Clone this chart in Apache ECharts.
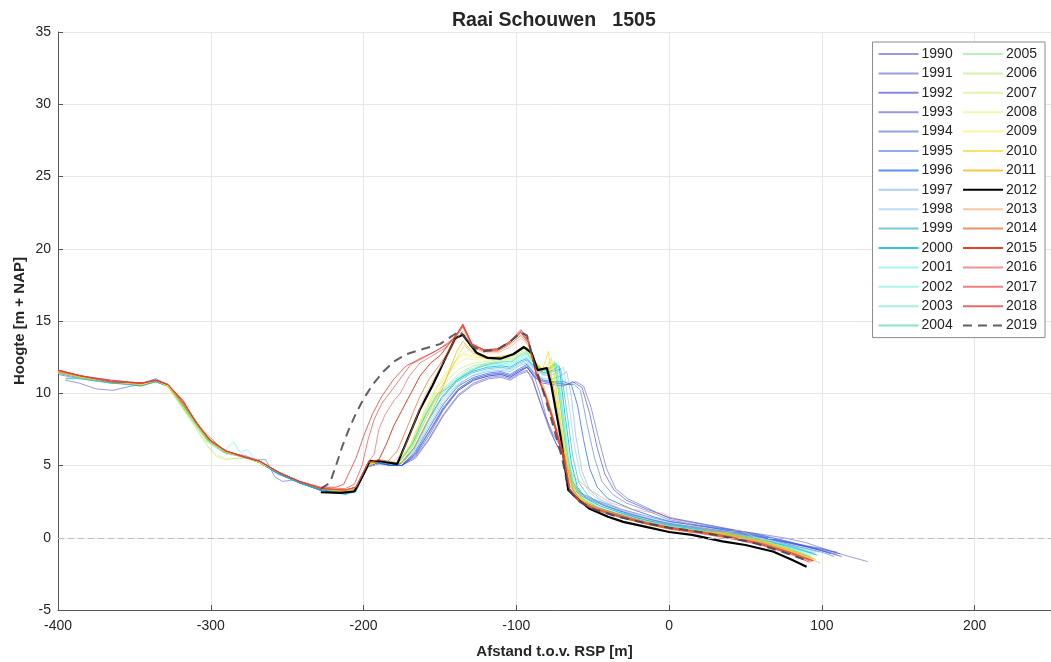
<!DOCTYPE html>
<html><head><meta charset="utf-8">
<script src="https://cdn.jsdelivr.net/npm/echarts@6/dist/echarts.min.js"></script>
<style>html,body{margin:0;padding:0;background:#fff}#c{width:1051px;height:662px}</style>
</head><body><div id="c"></div>
<script>
const titleText = 'Raai Schouwen   1505';
const xName = 'Afstand t.o.v. RSP [m]';
const yName = 'Hoogte [m + NAP]';
const years = ['1990','1991','1992','1993','1994','1995','1996','1997','1998','1999','2000','2001','2002','2003','2004','2005','2006','2007','2008','2009','2010','2011','2012','2013','2014','2015','2016','2017','2018','2019'];

const d1990 = [[-395,10.9],[-386,10.7],[-375,10.3],[-364,10.2],[-352,10.5],[-343,10.6],[-336,10.9],[-328,10.5],[-316,8.8],[-303,6.9],[-291,5.9],[-279,5.6],[-268,5.2],[-256,4.4],[-243,3.9],[-229,3.3],[-213,3.15],[-205,3.35],[-198,4.9],[-191,5.2],[-182,5.0],[-175,5.0],[-166,5.6],[-157,6.9],[-148,8.5],[-138,9.9],[-128,10.7],[-118,11.1],[-110,11.2],[-104,11.0],[-98,11.4],[-93,11.6],[-89,10.8],[-84,9.2],[-78,7.4],[-72,6.1],[-67,5.2],[-63,3.6],[-56,2.9],[-45,2.4],[-30,1.8],[-15,1.35],[0,0.95],[20,0.65],[40,0.35],[60,0.0],[80,-0.4],[100,-0.8],[112,-1.1]];
const d1991 = [[-400,11.4],[-386,11.1],[-366,10.8],[-346,10.5],[-336,10.8],[-328,10.5],[-315,8.7],[-302,6.8],[-290,5.9],[-278,5.6],[-268,5.2],[-255,4.4],[-242,3.8],[-228,3.3],[-212,3.15],[-205,3.4],[-197,5.0],[-190,5.2],[-182,5.0],[-175,5.0],[-166,5.8],[-157,7.3],[-148,8.9],[-138,10.2],[-128,10.9],[-118,11.2],[-110,11.3],[-104,11.1],[-98,11.5],[-93,11.8],[-88,11.1],[-84,9.8],[-79,7.8],[-74,6.5],[-68,5.6],[-64,4.0],[-58,3.1],[-48,2.6],[-32,2.0],[-15,1.5],[0,1.1],[20,0.85],[40,0.55],[60,0.25],[75,0.0],[90,-0.35],[105,-0.9],[118,-1.3],[130,-1.65]];
const d1992 = [[-400,11.5],[-385,11.1],[-365,10.8],[-345,10.7],[-336,11.0],[-328,10.6],[-315,8.8],[-302,6.9],[-290,6.0],[-278,5.6],[-268,5.3],[-255,4.5],[-242,3.9],[-228,3.3],[-212,3.1],[-205,3.3],[-197,5.0],[-190,5.2],[-182,5.0],[-175,5.0],[-166,5.7],[-157,7.1],[-148,8.8],[-138,10.2],[-128,10.9],[-118,11.2],[-110,11.3],[-104,11.1],[-98,11.5],[-93,11.8],[-88,11.1],[-83,10.7],[-76,10.6],[-69,10.5],[-63,10.8],[-57,10.4],[-52,8.6],[-47,6.2],[-42,4.4],[-36,3.3],[-28,2.6],[-15,2.0],[0,1.4],[20,1.0],[40,0.6],[60,0.2],[80,-0.3],[100,-0.9],[113,-1.3]];
const d1993 = [[-400,11.3],[-385,11.0],[-365,10.7],[-345,10.6],[-336,10.8],[-328,10.5],[-315,8.6],[-302,6.7],[-290,5.9],[-278,5.6],[-268,5.2],[-255,4.4],[-242,3.8],[-228,3.3],[-212,3.1],[-205,3.3],[-197,4.9],[-190,5.1],[-182,5.0],[-175,5.0],[-166,5.5],[-157,6.8],[-148,8.4],[-138,9.8],[-128,10.6],[-118,11.0],[-110,11.1],[-104,10.9],[-98,11.3],[-93,11.5],[-90,11.2],[-86,9.9],[-81,8.4],[-76,7.2],[-71,6.3],[-67,5.0],[-63,3.4],[-56,2.8],[-42,2.2],[-25,1.6],[-10,1.2],[0,1.0],[20,0.7],[40,0.4],[60,0.05],[80,-0.35],[100,-0.75],[110,-1.0]];
const d1994 = [[-400,11.4],[-385,11.1],[-365,10.8],[-345,10.6],[-336,10.9],[-328,10.5],[-315,8.7],[-302,6.8],[-290,5.9],[-278,5.7],[-270,5.4],[-264,5.4],[-258,4.2],[-253,3.9],[-246,4.0],[-235,3.6],[-225,3.3],[-212,3.15],[-205,3.35],[-197,5.0],[-190,5.2],[-182,5.0],[-175,5.0],[-166,5.9],[-157,7.4],[-148,9.0],[-138,10.3],[-128,11.0],[-118,11.3],[-110,11.4],[-104,11.2],[-98,11.6],[-93,11.9],[-88,11.2],[-82,10.8],[-74,10.7],[-66,10.6],[-61,10.8],[-56,10.5],[-51,9.0],[-46,6.8],[-41,4.8],[-35,3.4],[-27,2.7],[-15,2.1],[0,1.35],[20,0.95],[40,0.55],[60,0.15],[80,-0.35],[100,-0.85],[110,-1.15]];
const d1995 = [[-400,11.5],[-385,11.2],[-365,10.9],[-345,10.7],[-336,10.9],[-328,10.6],[-315,8.7],[-302,6.8],[-290,6.0],[-278,5.6],[-268,5.2],[-255,4.5],[-242,3.8],[-228,3.3],[-212,3.1],[-205,3.3],[-197,5.0],[-190,5.2],[-182,5.0],[-175,5.0],[-166,5.8],[-157,7.3],[-148,8.9],[-138,10.3],[-128,11.0],[-118,11.3],[-110,11.4],[-104,11.2],[-98,11.6],[-93,11.8],[-88,11.1],[-82,10.8],[-74,10.7],[-67,10.6],[-62,10.6],[-58,10.2],[-54,8.0],[-49,5.6],[-44,3.9],[-37,3.0],[-28,2.4],[-15,1.9],[0,1.25],[20,0.85],[40,0.45],[60,0.05],[80,-0.5],[100,-1.0],[108,-1.3]];
const d1996 = [[-400,11.4],[-385,11.1],[-365,10.8],[-345,10.6],[-336,10.8],[-328,10.5],[-315,8.8],[-302,6.9],[-290,5.9],[-278,5.6],[-268,5.3],[-255,4.5],[-242,3.8],[-228,3.3],[-212,3.1],[-205,3.3],[-197,5.0],[-190,5.2],[-182,5.0],[-175,5.0],[-166,6.0],[-157,7.6],[-148,9.2],[-138,10.5],[-128,11.1],[-118,11.4],[-110,11.5],[-104,11.3],[-98,11.7],[-93,12.0],[-88,11.3],[-82,10.9],[-75,10.8],[-69,10.8],[-64,10.6],[-60,9.2],[-56,6.8],[-52,4.8],[-47,3.5],[-40,2.7],[-25,2.0],[-10,1.45],[0,1.15],[20,0.8],[40,0.5],[60,0.1],[80,-0.4],[100,-0.9],[106,-1.1]];
const d1997 = [[-395,11.0],[-385,11.1],[-365,10.8],[-345,10.6],[-336,10.9],[-328,10.5],[-315,8.6],[-302,6.8],[-290,5.9],[-278,5.6],[-268,5.2],[-255,4.4],[-242,3.8],[-228,3.3],[-212,3.1],[-205,3.3],[-197,5.0],[-190,5.2],[-182,5.1],[-176,5.1],[-167,6.0],[-158,7.6],[-149,9.2],[-139,10.5],[-129,11.2],[-119,11.5],[-110,11.6],[-104,11.5],[-98,11.9],[-93,12.1],[-88,11.4],[-82,11.0],[-76,11.0],[-71,11.2],[-67,11.5],[-64,9.8],[-61,7.0],[-57,4.6],[-52,3.3],[-44,2.6],[-30,1.9],[-15,1.4],[0,1.0],[20,0.7],[40,0.4],[60,0.0],[80,-0.5],[98,-1.0]];
const d1998 = [[-400,11.5],[-385,11.1],[-365,10.8],[-345,10.6],[-336,10.9],[-328,10.5],[-315,8.7],[-302,6.8],[-290,5.9],[-278,5.6],[-268,5.3],[-255,4.5],[-242,3.8],[-228,3.3],[-212,3.1],[-205,3.3],[-197,5.0],[-190,5.3],[-182,5.1],[-176,5.1],[-167,6.1],[-158,7.8],[-149,9.4],[-139,10.6],[-129,11.2],[-119,11.6],[-110,11.7],[-104,11.6],[-98,12.0],[-93,12.2],[-88,11.6],[-82,11.2],[-76,11.3],[-69,11.8],[-66,9.5],[-62,6.4],[-58,4.3],[-52,3.1],[-44,2.5],[-30,1.85],[-15,1.35],[0,0.95],[20,0.65],[40,0.35],[60,-0.05],[80,-0.55],[96,-1.05]];
const d1999 = [[-400,11.4],[-385,11.1],[-365,10.7],[-345,10.6],[-336,10.9],[-328,10.5],[-315,8.7],[-302,6.8],[-290,5.9],[-278,5.6],[-268,5.2],[-255,4.4],[-242,3.8],[-228,3.3],[-212,3.05],[-205,3.3],[-197,5.0],[-190,5.3],[-182,5.1],[-176,5.1],[-167,6.2],[-158,8.0],[-149,9.6],[-139,10.8],[-129,11.4],[-119,11.7],[-110,11.8],[-104,11.7],[-98,12.1],[-93,12.3],[-88,11.7],[-82,11.3],[-76,11.5],[-71,11.7],[-67,8.8],[-63,5.6],[-59,3.8],[-53,2.9],[-44,2.3],[-30,1.7],[-15,1.25],[0,0.9],[20,0.6],[40,0.3],[60,-0.1],[80,-0.6],[95,-1.1]];
const d2000 = [[-400,11.5],[-385,11.2],[-365,10.8],[-345,10.6],[-336,10.9],[-328,10.5],[-315,8.6],[-302,6.7],[-290,5.9],[-278,5.6],[-268,5.2],[-255,4.4],[-242,3.8],[-228,3.3],[-212,3.0],[-205,3.2],[-197,5.0],[-190,5.3],[-182,5.1],[-176,5.1],[-167,6.2],[-158,8.1],[-149,9.7],[-139,10.9],[-129,11.5],[-119,11.8],[-110,11.9],[-104,11.8],[-98,12.2],[-93,12.4],[-88,11.8],[-82,11.4],[-76,11.6],[-72,11.9],[-68,8.4],[-64,5.2],[-60,3.5],[-54,2.7],[-45,2.2],[-30,1.65],[-15,1.2],[0,0.85],[20,0.55],[40,0.25],[60,-0.15],[80,-0.65],[97,-1.2]];
const d2001 = [[-395,11.0],[-385,11.1],[-365,10.8],[-345,10.6],[-336,10.9],[-328,10.5],[-315,8.6],[-302,6.7],[-292,5.9],[-285,6.65],[-281,5.9],[-276,6.1],[-270,5.3],[-255,4.5],[-242,3.9],[-228,3.4],[-212,3.1],[-205,3.3],[-197,5.0],[-190,5.3],[-183,5.2],[-177,5.2],[-168,6.3],[-159,8.3],[-150,9.8],[-141,10.8],[-131,11.5],[-121,11.9],[-110,12.0],[-104,11.9],[-98,12.3],[-93,12.5],[-88,11.9],[-82,11.5],[-76,11.8],[-73,12.0],[-69,8.6],[-65,5.3],[-61,3.6],[-55,2.8],[-46,2.2],[-30,1.6],[-15,1.15],[0,0.85],[20,0.55],[40,0.25],[60,-0.15],[80,-0.65],[95,-1.15]];
const d2002 = [[-395,11.1],[-385,11.0],[-365,10.7],[-345,10.6],[-336,10.9],[-328,10.5],[-315,8.6],[-302,6.7],[-290,5.9],[-278,5.6],[-268,5.2],[-255,4.5],[-242,3.9],[-228,3.4],[-212,3.1],[-205,3.3],[-197,5.0],[-190,5.3],[-183,5.2],[-177,5.2],[-168,6.4],[-159,8.5],[-151,9.8],[-142,10.7],[-132,11.5],[-121,11.9],[-110,12.1],[-104,12.0],[-98,12.4],[-93,12.6],[-88,12.0],[-82,11.5],[-77,11.8],[-74,12.1],[-70,8.8],[-66,5.4],[-62,3.6],[-56,2.8],[-46,2.1],[-30,1.55],[-15,1.1],[0,0.8],[20,0.5],[40,0.2],[60,-0.2],[80,-0.7],[93,-1.2]];
const d2003 = [[-400,11.4],[-385,11.1],[-365,10.8],[-345,10.6],[-336,10.8],[-328,10.5],[-315,8.7],[-302,6.8],[-290,5.9],[-278,5.6],[-268,5.3],[-255,4.5],[-242,3.9],[-228,3.4],[-212,3.1],[-205,3.3],[-197,5.0],[-190,5.3],[-183,5.2],[-177,5.2],[-168,6.5],[-159,8.6],[-151,9.9],[-142,10.8],[-132,11.6],[-121,12.0],[-110,12.1],[-104,12.1],[-98,12.5],[-93,12.7],[-88,12.0],[-82,11.6],[-77,11.9],[-74,12.1],[-70,9.0],[-66,5.5],[-62,3.5],[-56,2.7],[-46,2.1],[-30,1.5],[-15,1.1],[0,0.75],[20,0.45],[40,0.2],[60,-0.2],[80,-0.75],[92,-1.25]];
const d2004 = [[-395,11.0],[-385,11.0],[-365,10.7],[-345,10.5],[-336,10.8],[-328,10.5],[-315,8.6],[-302,6.7],[-290,5.9],[-278,5.6],[-268,5.2],[-255,4.5],[-242,3.9],[-228,3.4],[-212,3.1],[-205,3.3],[-197,5.0],[-190,5.3],[-183,5.2],[-177,5.2],[-168,6.5],[-160,8.4],[-152,9.9],[-143,10.5],[-135,11.2],[-125,11.8],[-115,12.1],[-108,12.2],[-103,12.2],[-98,12.6],[-93,12.8],[-88,12.1],[-82,11.6],[-78,11.8],[-75,12.0],[-71,9.0],[-67,5.6],[-63,3.6],[-57,2.7],[-46,2.05],[-30,1.5],[-15,1.05],[0,0.7],[20,0.4],[40,0.15],[60,-0.25],[80,-0.8],[93,-1.35]];
const d2005 = [[-400,11.5],[-385,11.1],[-365,10.8],[-345,10.6],[-336,10.9],[-328,10.5],[-315,8.5],[-302,6.6],[-290,5.8],[-278,5.6],[-268,5.2],[-255,4.5],[-242,3.9],[-228,3.4],[-212,3.15],[-205,3.35],[-197,5.0],[-190,5.3],[-183,5.2],[-177,5.2],[-169,6.4],[-161,8.2],[-153,9.8],[-145,10.6],[-137,11.4],[-128,11.9],[-118,12.1],[-109,12.3],[-103,12.3],[-98,12.7],[-93,12.9],[-88,12.1],[-83,11.5],[-78,11.4],[-75,12.2],[-71,9.2],[-67,6.0],[-63,3.8],[-57,2.7],[-46,2.0],[-30,1.45],[-15,1.05],[0,0.7],[20,0.45],[40,0.15],[60,-0.3],[80,-0.85],[92,-1.35]];
const d2006 = [[-400,11.4],[-385,11.1],[-365,10.8],[-345,10.6],[-336,10.8],[-328,10.4],[-315,8.4],[-302,6.3],[-296,5.6],[-290,5.4],[-283,5.5],[-276,5.5],[-268,5.2],[-255,4.5],[-242,3.9],[-228,3.4],[-212,3.2],[-205,3.4],[-197,5.0],[-190,5.3],[-183,5.2],[-177,5.2],[-169,6.5],[-161,8.4],[-153,10.0],[-145,10.9],[-137,11.7],[-128,12.1],[-118,12.2],[-109,12.4],[-103,12.4],[-98,12.8],[-93,13.0],[-88,12.2],[-83,11.6],[-79,11.6],[-76,12.0],[-72,9.0],[-68,6.0],[-64,3.7],[-58,2.6],[-46,1.95],[-30,1.4],[-15,1.0],[0,0.65],[20,0.4],[40,0.15],[60,-0.3],[80,-0.9],[93,-1.45]];
const d2007 = [[-400,11.5],[-385,11.2],[-365,10.8],[-345,10.6],[-336,10.9],[-328,10.5],[-315,8.5],[-302,6.4],[-296,5.7],[-290,5.5],[-283,5.5],[-276,5.5],[-268,5.2],[-255,4.5],[-242,3.9],[-228,3.4],[-212,3.2],[-205,3.4],[-197,5.0],[-190,5.3],[-183,5.2],[-177,5.2],[-169,6.5],[-161,8.5],[-153,10.2],[-146,11.2],[-139,12.0],[-133,12.4],[-126,12.3],[-118,12.3],[-109,12.4],[-103,12.5],[-98,12.9],[-93,13.1],[-88,12.2],[-83,11.6],[-80,11.8],[-77,12.4],[-73,9.5],[-69,6.3],[-65,4.0],[-59,2.7],[-46,1.9],[-30,1.4],[-15,1.0],[0,0.65],[20,0.4],[40,0.15],[60,-0.3],[80,-0.9],[95,-1.5]];
const d2008 = [[-400,11.5],[-385,11.1],[-365,10.8],[-345,10.7],[-336,10.9],[-328,10.5],[-315,8.6],[-302,6.7],[-290,5.9],[-278,5.6],[-268,5.3],[-255,4.5],[-242,3.9],[-228,3.4],[-212,3.2],[-205,3.4],[-197,5.0],[-190,5.3],[-183,5.2],[-177,5.2],[-169,6.6],[-161,8.6],[-154,10.2],[-147,11.3],[-140,12.2],[-135,12.8],[-129,12.6],[-120,12.4],[-110,12.5],[-103,12.6],[-98,13.0],[-93,13.2],[-88,12.3],[-83,11.7],[-80,11.9],[-77,12.5],[-73,9.6],[-69,6.5],[-65,4.2],[-60,2.8],[-46,1.9],[-30,1.35],[-15,0.95],[0,0.6],[20,0.4],[40,0.2],[60,-0.3],[80,-0.95],[93,-1.5]];
const d2009 = [[-400,11.4],[-385,11.1],[-365,10.8],[-345,10.6],[-336,10.9],[-328,10.5],[-315,8.6],[-302,6.7],[-290,5.9],[-278,5.6],[-268,5.2],[-255,4.5],[-242,3.9],[-228,3.4],[-212,3.2],[-205,3.4],[-197,5.0],[-190,5.3],[-183,5.2],[-177,5.2],[-169,6.5],[-161,8.4],[-154,10.0],[-147,11.2],[-140,12.1],[-135,12.7],[-129,12.5],[-120,12.4],[-110,12.5],[-103,12.6],[-98,13.0],[-93,13.1],[-88,12.2],[-83,11.7],[-80,11.8],[-77,12.2],[-73,9.6],[-69,6.6],[-65,4.3],[-60,2.9],[-46,1.95],[-30,1.35],[-15,0.95],[0,0.6],[20,0.4],[35,0.3],[46,0.55],[55,0.1],[70,-0.5],[85,-1.1],[93,-1.4]];
const d2010 = [[-400,11.5],[-385,11.2],[-365,10.8],[-345,10.6],[-336,10.9],[-328,10.5],[-315,8.7],[-302,6.8],[-290,5.9],[-278,5.6],[-268,5.3],[-255,4.5],[-242,3.9],[-228,3.4],[-212,3.2],[-205,3.4],[-197,5.1],[-190,5.3],[-182,5.2],[-175,5.2],[-168,6.3],[-161,7.8],[-154,9.4],[-148,10.6],[-142,11.8],[-137,12.8],[-134,13.3],[-129,12.8],[-120,12.4],[-110,12.5],[-103,12.7],[-98,13.0],[-93,13.2],[-88,12.2],[-83,11.6],[-79,12.9],[-75,9.6],[-71,7.0],[-67,4.6],[-62,3.1],[-50,2.1],[-30,1.35],[-15,0.95],[0,0.65],[20,0.45],[40,0.3],[60,-0.2],[80,-0.85],[95,-1.45]];
const d2011 = [[-400,11.5],[-385,11.1],[-365,10.8],[-345,10.7],[-336,10.9],[-328,10.6],[-315,8.8],[-302,6.9],[-290,6.0],[-278,5.6],[-268,5.3],[-255,4.5],[-242,3.9],[-228,3.4],[-212,3.2],[-205,3.4],[-197,5.1],[-190,5.3],[-182,5.2],[-174,5.2],[-167,6.2],[-160,7.6],[-154,9.0],[-148,10.4],[-143,11.8],[-139,12.9],[-135,13.6],[-130,13.0],[-124,12.6],[-115,12.5],[-107,12.6],[-101,12.8],[-96,13.2],[-92,13.0],[-88,12.0],[-83,11.6],[-79,11.8],[-75,10.2],[-71,7.5],[-67,5.0],[-63,3.3],[-55,2.4],[-40,1.8],[-25,1.3],[-10,0.9],[0,0.7],[20,0.45],[40,0.2],[60,-0.25],[80,-0.9],[96,-1.5]];
const d2012 = [[-228,3.15],[-215,3.1],[-206,3.2],[-201,4.2],[-196,5.3],[-189,5.3],[-183,5.2],[-178,5.1],[-172,6.6],[-163,8.9],[-155,10.5],[-146,12.5],[-140,13.8],[-135,14.05],[-126,12.8],[-119,12.45],[-110,12.4],[-102,12.7],[-95,13.2],[-90,12.8],[-86,11.6],[-80,11.75],[-77,10.5],[-71,7.0],[-66,3.3],[-60,2.7],[-52,2.0],[-40,1.45],[-30,1.1],[-15,0.75],[0,0.4],[15,0.2],[35,-0.25],[50,-0.5],[68,-0.95],[80,-1.5],[90,-2.0]];
const d2013 = [[-400,11.5],[-385,11.2],[-365,10.8],[-345,10.7],[-336,10.9],[-328,10.6],[-316,9.0],[-304,7.1],[-291,6.0],[-279,5.6],[-268,5.3],[-255,4.5],[-242,3.9],[-228,3.4],[-212,3.3],[-205,3.5],[-197,5.2],[-190,5.4],[-184,5.3],[-180,5.3],[-175,5.8],[-169,7.3],[-164,8.7],[-160,9.8],[-154,11.0],[-148,12.1],[-144,12.8],[-140,13.6],[-135,14.3],[-129,13.2],[-121,12.8],[-112,12.8],[-104,13.2],[-97,13.8],[-92,13.3],[-87,11.6],[-82,10.5],[-77,8.8],[-72,6.6],[-67,4.8],[-60,4.0],[-50,3.2],[-38,2.4],[-25,2.0],[-12,1.75],[-4,1.7],[5,1.2],[20,0.7],[40,0.25],[60,-0.3],[80,-1.0],[99,-1.75]];
const d2014 = [[-400,11.6],[-385,11.2],[-365,10.8],[-345,10.7],[-336,10.9],[-328,10.6],[-317,9.2],[-306,7.5],[-292,6.1],[-280,5.6],[-268,5.3],[-255,4.5],[-242,3.9],[-228,3.4],[-212,3.3],[-205,3.5],[-197,5.2],[-190,5.4],[-184,5.3],[-178,6.0],[-172,7.5],[-167,8.8],[-163,9.8],[-157,11.0],[-150,12.0],[-145,12.8],[-140,13.8],[-135,14.6],[-129,13.3],[-121,12.9],[-112,12.9],[-104,13.4],[-97,14.0],[-92,13.4],[-87,11.5],[-81,10.0],[-75,8.0],[-69,5.8],[-65,3.6],[-58,2.6],[-48,2.1],[-32,1.6],[-15,1.1],[0,0.75],[20,0.45],[40,0.1],[60,-0.35],[80,-1.0],[95,-1.6]];
const d2015 = [[-400,11.6],[-385,11.2],[-365,10.8],[-345,10.7],[-336,10.9],[-328,10.6],[-318,9.4],[-309,7.9],[-300,6.7],[-290,6.0],[-278,5.6],[-268,5.3],[-255,4.5],[-242,3.9],[-228,3.4],[-212,3.3],[-205,3.5],[-197,5.2],[-190,5.4],[-185,6.5],[-180,7.8],[-175,8.8],[-170,9.8],[-163,11.2],[-156,12.1],[-150,12.6],[-144,13.4],[-139,14.1],[-135,14.7],[-129,13.4],[-121,13.0],[-112,13.0],[-104,13.5],[-97,14.2],[-92,13.5],[-87,11.4],[-81,9.9],[-75,7.9],[-69,5.6],[-65,3.4],[-58,2.5],[-48,2.0],[-32,1.5],[-15,1.0],[0,0.7],[20,0.4],[40,0.05],[60,-0.4],[80,-1.05],[94,-1.6]];
const d2016 = [[-400,11.5],[-385,11.2],[-365,10.8],[-345,10.7],[-336,10.9],[-328,10.6],[-318,9.3],[-308,7.8],[-299,6.6],[-290,6.0],[-278,5.6],[-268,5.3],[-255,4.5],[-242,3.9],[-228,3.4],[-212,3.3],[-205,3.5],[-197,5.2],[-193,5.8],[-190,7.5],[-186,8.5],[-180,9.5],[-176,10.0],[-170,11.2],[-163,12.1],[-155,12.6],[-147,13.1],[-140,13.9],[-135,14.6],[-129,13.3],[-121,12.9],[-112,13.0],[-104,13.5],[-97,14.2],[-92,13.6],[-87,11.4],[-81,9.8],[-75,7.8],[-69,5.5],[-65,3.3],[-58,2.5],[-48,2.0],[-32,1.5],[-15,1.05],[0,0.7],[20,0.4],[40,0.0],[60,-0.45],[80,-1.1],[92,-1.55]];
const d2017 = [[-400,11.6],[-385,11.2],[-365,10.8],[-345,10.7],[-336,10.9],[-328,10.6],[-318,9.4],[-309,7.9],[-300,6.7],[-290,6.0],[-278,5.6],[-268,5.3],[-255,4.5],[-242,3.9],[-228,3.45],[-212,3.4],[-206,3.7],[-201,5.0],[-197,6.8],[-193,8.2],[-188,9.3],[-183,10.0],[-176,11.0],[-169,12.0],[-160,12.5],[-150,13.1],[-141,13.8],[-135,14.7],[-129,13.4],[-121,13.0],[-112,13.0],[-104,13.6],[-97,14.3],[-92,13.6],[-87,11.3],[-81,9.8],[-75,7.7],[-69,5.4],[-65,3.3],[-58,2.4],[-48,1.95],[-32,1.45],[-15,1.0],[0,0.65],[20,0.35],[40,0.0],[60,-0.45],[80,-1.1],[93,-1.65]];
const d2018 = [[-400,11.6],[-385,11.2],[-365,10.9],[-345,10.7],[-336,10.9],[-328,10.6],[-318,9.5],[-310,8.0],[-301,6.8],[-290,6.0],[-278,5.6],[-268,5.3],[-255,4.5],[-242,3.9],[-228,3.5],[-218,3.5],[-213,3.7],[-205,5.5],[-199,7.3],[-194,8.6],[-188,9.8],[-180,11.0],[-172,11.9],[-163,12.4],[-153,12.9],[-145,13.4],[-140,13.9],[-135,14.8],[-129,13.4],[-121,13.0],[-112,13.1],[-104,13.6],[-97,14.4],[-92,13.7],[-87,11.3],[-81,9.8],[-75,7.7],[-69,5.4],[-65,3.2],[-58,2.4],[-48,1.9],[-32,1.4],[-15,0.95],[0,0.6],[20,0.3],[40,-0.05],[60,-0.5],[80,-1.15],[92,-1.7]];
const d2019 = [[-228,3.4],[-222,3.8],[-218,5.0],[-214,6.3],[-210,7.4],[-205,8.6],[-200,9.6],[-194,10.6],[-187,11.5],[-180,12.2],[-172,12.7],[-160,13.1],[-150,13.4],[-143,13.9],[-137,14.3],[-130,13.3],[-122,12.9],[-113,13.0],[-105,13.5],[-97,14.2],[-93,14.0],[-88,12.0],[-82,10.0],[-76,7.8],[-70,5.5],[-66,3.4],[-60,2.6],[-50,2.0],[-35,1.5],[-15,1.0],[0,0.7],[20,0.4],[40,0.0],[57,-0.4],[75,-1.0],[88,-1.5]];

const profiles = [d1990,d1991,d1992,d1993,d1994,d1995,d1996,d1997,d1998,d1999,d2000,d2001,d2002,d2003,d2004,d2005,d2006,d2007,d2008,d2009,d2010,d2011,d2012,d2013,d2014,d2015,d2016,d2017,d2018,d2019];

// styles (kept apart from data)
const lineColors = ['#4a46c8','#4a4ccc','#3a36d4','#4444c4','#3a56c8','#3a66d8','#1a62f0','#5aa4ea','#6ab4f2','#18a8c8','#00b8d2','#44e0e0','#44e6d0','#44deb4','#22cf90','#5ede6a','#a4e048','#c8e84a','#e2ee4a','#f0ee44','#f2d000','#f2b000','#000000','#f4a060','#e27030','#e02200','#ea6464','#ea4848','#e43434','#44444c'];
const lineOpac = [0.55,0.55,0.6,0.55,0.55,0.55,0.7,0.5,0.45,0.6,0.8,0.45,0.45,0.45,0.55,0.45,0.45,0.45,0.45,0.5,0.6,0.7,1,0.6,0.75,0.85,0.7,0.7,0.75,0.85];

const FONT = 'Liberation Sans, Arial, sans-serif';
const chart = echarts.init(document.getElementById('c'), null, {renderer:'canvas'});

const series = years.map((y, i) => {
  const is12 = y === '2012', is19 = y === '2019';
  const s = {
    name: y, type: 'line', data: profiles[i], symbol: 'none', showSymbol: false,
    smooth: false, animation: false, silent: true,
    lineStyle: { color: lineColors[i], width: is12 ? 2.2 : (is19 ? 2 : 1), opacity: lineOpac[i], type: is19 ? [9,6] : 'solid' },
    itemStyle: { color: lineColors[i], opacity: 0 },
    emphasis: { disabled: true }
  };
  if (i === 0) {
    s.markLine = { silent: true, symbol: 'none', label: { show: false },
      lineStyle: { color: '#bdbdbd', type: [6,4], width: 1.2, opacity: 1 },
      data: [{ yAxis: 0 }] };
  }
  return s;
});

chart.setOption({
  animation: false,
  backgroundColor: '#fff',
  textStyle: { fontFamily: FONT },
  title: { text: titleText, left: 447, top: 6,
    textStyle: { fontFamily: FONT, fontWeight: 'bold', fontSize: 19.5, color: '#262626' } },
  grid: { left: 58, right: 0, top: 32, bottom: 52, containLabel: false, outerBoundsMode: 'none' },
  legend: {
    data: years, orient: 'vertical', right: 6, top: 42, height: 292,
    itemWidth: 40, itemHeight: 14, itemGap: 5.4, padding: [5, 4, 5, 5],
    borderColor: '#8c8c8c', borderWidth: 1, backgroundColor: '#fff',
    selectedMode: false,
    itemStyle: { opacity: 0 },
    formatter: function (name) { return name + ' '; },
    textStyle: { fontFamily: FONT, fontSize: 14, color: '#262626', padding: [0,0,0,-2] }
  },
  xAxis: {
    type: 'value', min: -400, max: 250, interval: 100,
    name: xName, nameLocation: 'middle', nameGap: 34, nameMoveOverlap: false,
    nameTextStyle: { fontFamily: FONT, fontWeight: 'bold', fontSize: 15, color: '#262626' },
    axisLine: { show: true, onZero: false, lineStyle: { color: '#555', width: 1 } },
    axisTick: { show: true, inside: true, length: 5, lineStyle: { color: '#555' } },
    axisLabel: { color: '#262626', fontSize: 14, margin: 9, showMaxLabel: false, fontFamily: FONT },
    splitLine: { show: true, lineStyle: { color: '#e6e6e6', width: 1 } }
  },
  yAxis: {
    type: 'value', min: -5, max: 35, interval: 5,
    name: yName, nameLocation: 'middle', nameGap: 31, nameRotate: 90, nameMoveOverlap: false,
    nameTextStyle: { fontFamily: FONT, fontWeight: 'bold', fontSize: 15, color: '#262626' },
    axisLine: { show: true, onZero: false, lineStyle: { color: '#555', width: 1 } },
    axisTick: { show: true, inside: true, length: 5, lineStyle: { color: '#555' } },
    axisLabel: { color: '#262626', fontSize: 14, margin: 7, fontFamily: FONT },
    splitLine: { show: true, lineStyle: { color: '#e6e6e6', width: 1 } }
  },
  series: series
});
</script></body></html>
